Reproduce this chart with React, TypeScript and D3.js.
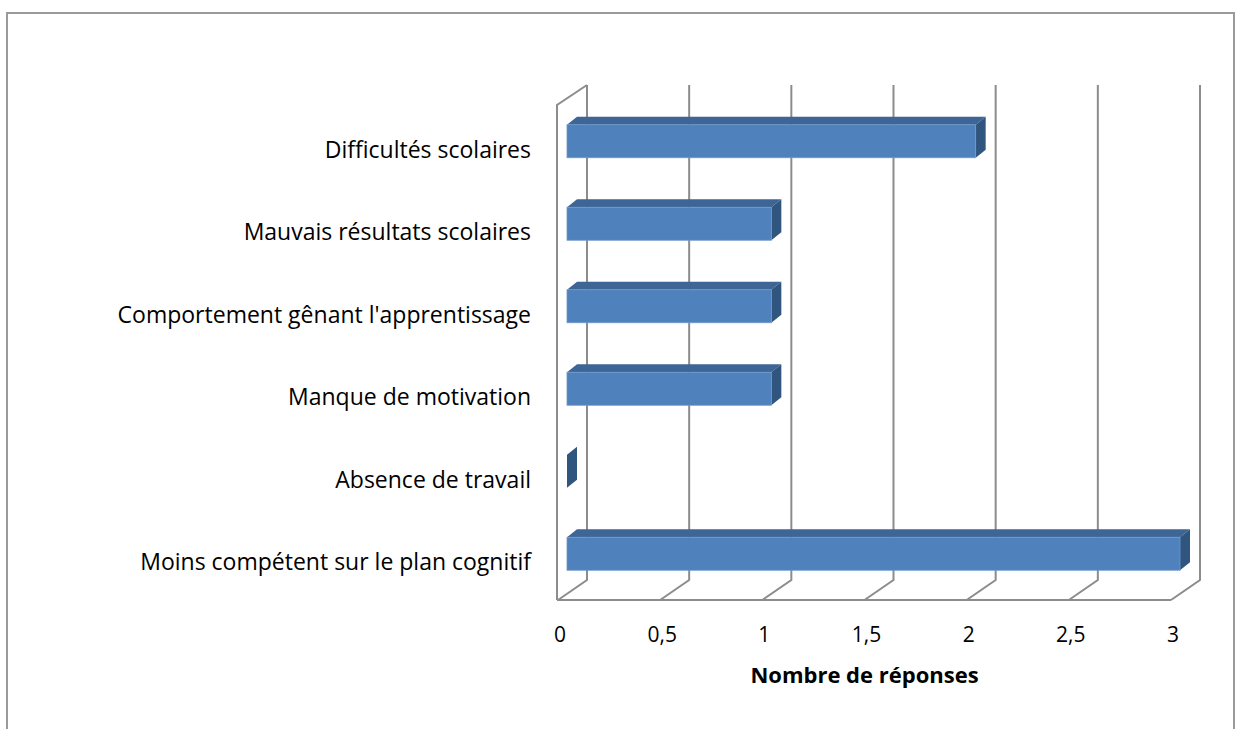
import React, { useEffect, useRef } from 'react';
import * as d3 from 'd3';

const categories = [
  'Difficultés scolaires',
  'Mauvais résultats scolaires',
  "Comportement gênant l'apprentissage",
  'Manque de motivation',
  'Absence de travail',
  'Moins compétent sur le plan cognitif',
];
const values = [2, 1, 1, 1, 0, 3];
const ticks = [0, 0.5, 1, 1.5, 2, 2.5, 3];
const axisTitle = 'Nombre de réponses';

const fmt = (v: number) => String(v).replace('.', ',');

const App = () => {
  const svgRef = useRef<SVGSVGElement | null>(null);

  useEffect(() => {
    if (!svgRef.current) return;
    const svg = d3.select(svgRef.current);
    svg.selectAll('*').remove();

    const W = 1235;
    const H = 729;
    const font = "'Open Sans', 'Liberation Sans', Arial, sans-serif";
    const grid = '#8c8c8c';

    // outer chart border
    svg.append('rect')
      .attr('x', 7).attr('y', 13)
      .attr('width', 1227).attr('height', H + 20)
      .attr('fill', 'none').attr('stroke', '#9a9a9a').attr('stroke-width', 2);

    // front plane
    const x = d3.scaleLinear().domain([0, 3]).range([558, 1171]);
    const y = d3.scaleBand().domain(categories).range([105, 600]);
    const depth = { dx: 29, dy: -20 };
    const floorY = 600;

    const g = svg.append('g');

    // left wall edge
    g.append('path')
      .attr('d', `M${x(0) - 1},${floorY} L${x(0) - 1},${y.range()[0]} L${x(0) + depth.dx},${y.range()[0] + depth.dy}`)
      .attr('fill', 'none').attr('stroke', grid).attr('stroke-width', 2);

    // floor front edge
    g.append('line')
      .attr('x1', x(0) - 1).attr('x2', x(3))
      .attr('y1', floorY).attr('y2', floorY)
      .attr('stroke', grid).attr('stroke-width', 2);

    // gridlines on back wall and floor
    ticks.forEach(t => {
      const xf = x(t);
      const xb = xf + depth.dx;
      g.append('path')
        .attr('d', `M${xb},${y.range()[0] + depth.dy} L${xb},${floorY + depth.dy} L${xf},${floorY}`)
        .attr('fill', 'none').attr('stroke', grid).attr('stroke-width', 2);
    });

    // bars (3D)
    const off = { dx: 9, dy: -5 };
    const bd = { dx: 10, dy: -8 };
    const bh = y.bandwidth() * 0.4;

    categories.forEach((c, i) => {
      const v = values[i];
      const x0 = x(0) + off.dx;
      const x1 = x(v) + off.dx;
      const cy = (y(c) as number) + y.bandwidth() / 2 + off.dy;
      const y0 = cy - bh / 2;
      const y1 = cy + bh / 2;
      const bar = g.append('g');
      // top face
      bar.append('path')
        .attr('d', `M${x0},${y0} L${x0 + bd.dx},${y0 + bd.dy} L${x1 + bd.dx},${y0 + bd.dy} L${x1},${y0} Z`)
        .attr('fill', '#3d6595');
      // side face
      bar.append('path')
        .attr('d', `M${x1},${y0} L${x1 + bd.dx},${y0 + bd.dy} L${x1 + bd.dx},${y1 + bd.dy} L${x1},${y1} Z`)
        .attr('fill', '#30557f');
      // front face
      if (v > 0) {
        bar.append('rect')
          .attr('x', x0).attr('y', y0)
          .attr('width', x1 - x0).attr('height', bh)
          .attr('fill', '#4f81bd')
          .attr('stroke', '#6f98c9').attr('stroke-width', 0.8);
      }
    });

    // category labels
    categories.forEach(c => {
      svg.append('text')
        .attr('x', 531)
        .attr('y', (y(c) as number) + y.bandwidth() / 2 + 3.5)
        .attr('dy', '0.35em')
        .attr('text-anchor', 'end')
        .style('font-family', font)
        .style('font-size', '23px')
        .style('fill', '#000')
        .text(c);
    });

    // tick labels
    ticks.forEach(t => {
      svg.append('text')
        .attr('x', x(t) + 2)
        .attr('y', 635)
        .attr('dy', '0.35em')
        .attr('text-anchor', 'middle')
        .style('font-family', font)
        .style('font-size', '21px')
        .style('fill', '#000')
        .text(fmt(t));
    });

    // axis title
    svg.append('text')
      .attr('x', (x(0) + x(3)) / 2)
      .attr('y', 675)
      .attr('dy', '0.35em')
      .attr('text-anchor', 'middle')
      .style('font-family', font)
      .style('font-size', '22px')
      .style('font-weight', 'bold')
      .style('fill', '#000')
      .text(axisTitle);

    svg.attr('width', W).attr('height', H);
  }, []);

  return (
    <svg
      ref={svgRef}
      width={1235}
      height={729}
      style={{ position: 'absolute', left: 0, top: 0, background: '#fff' }}
    />
  );
};

export default App;
